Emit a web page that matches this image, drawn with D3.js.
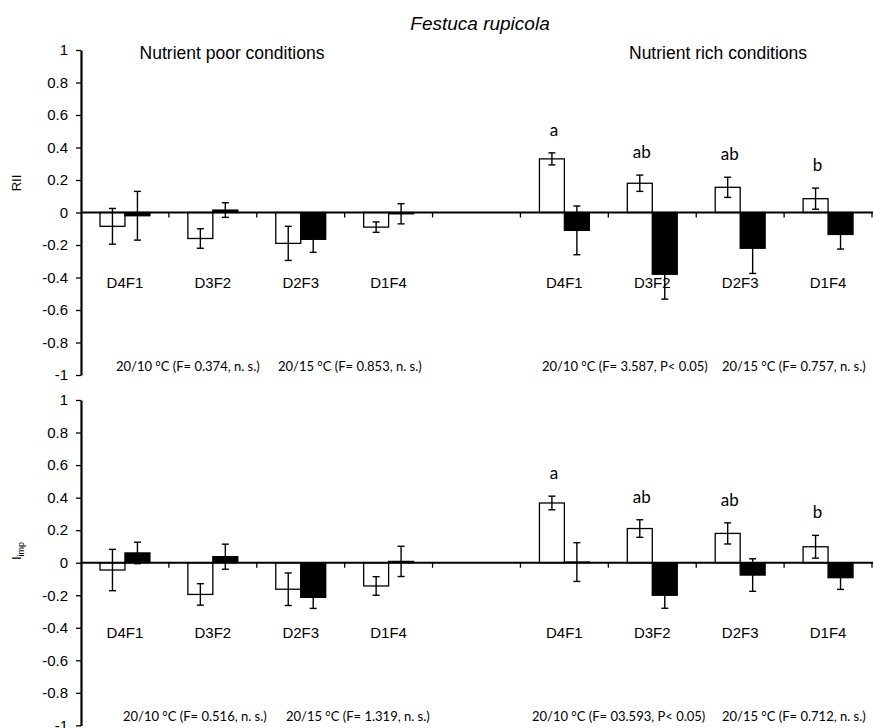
<!DOCTYPE html>
<html>
<head>
<meta charset="utf-8">
<script src="https://cdn.jsdelivr.net/npm/d3@7"></script>
<style>
body { margin: 0; background: #fff; }
text { font-family: "Liberation Sans", Arial, sans-serif; fill: #000; }
.cal { font-family: Lato, "Open Sans", sans-serif; }
</style>
</head>
<body>
<div id="chart"></div>
<script>
// categories and series
const categories = ["D4F1", "D3F2", "D2F3", "D1F4"];
const conditions = ["Nutrient poor conditions", "Nutrient rich conditions"];
const series = ["t1020", "t1520"];
const yTicks = [-1, -0.8, -0.6, -0.4, -0.2, 0, 0.2, 0.4, 0.6, 0.8, 1];

// values: 4 poor then 4 rich
const rii1020 = [-0.085, -0.16, -0.19, -0.09, 0.33, 0.18, 0.155, 0.085];
const rii1020Err = [0.11, 0.06, 0.105, 0.032, 0.037, 0.05, 0.062, 0.065];
const rii1520 = [-0.02, 0.015, -0.165, -0.008, -0.11, -0.38, -0.22, -0.135];
const rii1520Err = [0.15, 0.045, 0.08, 0.062, 0.15, 0.153, 0.155, 0.09];
const imp1020 = [-0.045, -0.195, -0.163, -0.143, 0.367, 0.21, 0.18, 0.098];
const imp1020Err = [0.127, 0.066, 0.1, 0.057, 0.042, 0.054, 0.065, 0.07];
const imp1520 = [0.06, 0.037, -0.213, 0.008, 0.004, -0.2, -0.076, -0.092];
const imp1520Err = [0.066, 0.077, 0.068, 0.093, 0.119, 0.08, 0.1, 0.072];
const richLetters = ["a", "ab", "ab", "b"];
const riiStats = ["20/10 °C (F= 0.374, n. s.)", "20/15 °C (F= 0.853, n. s.)", "20/10 °C (F= 3.587, P< 0.05)", "20/15 °C (F= 0.757, n. s.)"];
const impStats = ["20/10 °C (F= 0.516, n. s.)", "20/15 °C  (F= 1.319, n. s.)", "20/10 °C (F= 03.593, P< 0.05)", "20/15 °C (F= 0.712, n. s.)"];

const W = 873, H = 728;

const svg = d3.select("#chart")
    .append("svg")
    .attr("width", W)
    .attr("height", H);

// group keys: 4 poor, a blank slot, 4 rich
const groupKeys = categories.map(c => "poor_" + c)
    .concat(["blank"])
    .concat(categories.map(c => "rich_" + c));
const dataKeys = groupKeys.filter(k => k != "blank");

const x = d3.scaleBand().domain(groupKeys).range([81, 872]).padding(0);
const xInner = d3.scaleBand().domain(series).range([0, x.bandwidth()])
    .paddingInner(0).paddingOuter(0.76);

svg.append("text")
    .attr("x", 480).attr("y", 30)
    .attr("text-anchor", "middle")
    .attr("font-size", 19)
    .attr("font-style", "italic")
    .text("Festuca rupicola");

function drawPanel(p) {
    const y = d3.scaleLinear().domain([-1, 1]).range([p.bottom, p.top]);
    const g = svg.append("g");

    const rows = [];
    dataKeys.forEach((k, i) => {
        rows.push({ key: k, s: "t1020", v: p.a[i], e: p.aErr[i] });
        rows.push({ key: k, s: "t1520", v: p.b[i], e: p.bErr[i] });
    });

    // bars
    g.selectAll("rect.bar")
        .data(rows)
        .join("rect")
        .attr("class", "bar")
        .attr("x", d => x(d.key) + xInner(d.s))
        .attr("width", xInner.bandwidth())
        .attr("y", d => y(Math.max(0, d.v)))
        .attr("height", d => Math.abs(y(d.v) - y(0)))
        .attr("fill", d => d.s == "t1020" ? "#fff" : "#000")
        .attr("stroke", "#000")
        .attr("stroke-width", 1.3);

    // error bars
    const eb = g.selectAll("g.err")
        .data(rows)
        .join("g")
        .attr("class", "err")
        .attr("transform", d => `translate(${x(d.key) + xInner(d.s) + xInner.bandwidth() / 2},0)`)
        .attr("stroke", "#000")
        .attr("stroke-width", 1.4);
    eb.append("line")
        .attr("y1", d => y(d.v + d.e)).attr("y2", d => y(d.v - d.e));
    eb.append("line")
        .attr("x1", -3.5).attr("x2", 3.5)
        .attr("y1", d => y(d.v + d.e)).attr("y2", d => y(d.v + d.e));
    eb.append("line")
        .attr("x1", -3.5).attr("x2", 3.5)
        .attr("y1", d => y(d.v - d.e)).attr("y2", d => y(d.v - d.e));

    // zero line and ticks between groups
    g.append("line")
        .attr("x1", x.range()[0]).attr("x2", W)
        .attr("y1", y(0)).attr("y2", y(0))
        .attr("stroke", "#000").attr("stroke-width", 2);
    g.selectAll("line.xt")
        .data(groupKeys)
        .join("line")
        .attr("class", "xt")
        .attr("x1", d => x(d) + x.bandwidth()).attr("x2", d => x(d) + x.bandwidth())
        .attr("y1", y(0)).attr("y2", y(0) + 5)
        .attr("stroke", "#000").attr("stroke-width", 1.3);

    // category labels
    g.selectAll("text.cat")
        .data(dataKeys)
        .join("text")
        .attr("class", "cat")
        .attr("x", d => x(d) + x.bandwidth() / 2)
        .attr("y", y(0) + 75)
        .attr("text-anchor", "middle")
        .attr("font-size", 15)
        .text(d => d.split("_")[1]);

    // significance letters on rich 20/10 bars
    g.selectAll("text.let")
        .data(richLetters)
        .join("text")
        .attr("class", "let cal")
        .attr("x", (d, i) => x("rich_" + categories[i]) + xInner("t1020") + xInner.bandwidth() / 2 + 2)
        .attr("y", (d, i) => y(p.a[i + 4] + p.aErr[i + 4]) - 17)
        .attr("text-anchor", "middle")
        .attr("font-size", 17)
        .text(d => d);

    // y axis
    const ax = g.append("g")
        .attr("transform", "translate(81,0)")
        .call(d3.axisLeft(y).tickValues(yTicks).tickSize(5).tickSizeOuter(0).tickPadding(8)
            .tickFormat(d => String(+d.toFixed(1))));
    ax.select(".domain").attr("stroke-width", 2.2);
    ax.selectAll(".tick line").attr("stroke-width", 1.3);
    ax.selectAll(".tick text")
        .attr("font-size", 15)
        .attr("font-family", "'Liberation Sans', Arial, sans-serif");

    // y label
    const yl = g.append("text")
        .attr("transform", `translate(${p.labelX},${p.labelY}) rotate(-90)`)
        .attr("text-anchor", "middle")
        .attr("font-size", 13);
    yl.append("tspan").text(p.label);
    if (p.sub) {
        yl.append("tspan").attr("font-size", 9).attr("dy", 3).text(p.sub);
    }

    // statistics notes
    g.selectAll("text.stat")
        .data(p.stats)
        .join("text")
        .attr("class", "stat cal")
        .attr("x", (d, i) => p.statX[i])
        .attr("y", y(-1) - 4)
        .attr("font-size", 13)
        .text(d => d);
}

drawPanel({
    top: 50, bottom: 375, a: rii1020, aErr: rii1020Err, b: rii1520, bErr: rii1520Err,
    label: "RII", labelX: 21, labelY: 183, stats: riiStats, statX: [116, 278, 542, 722]
});
drawPanel({
    top: 400, bottom: 725.4, a: imp1020, aErr: imp1020Err, b: imp1520, bErr: imp1520Err,
    label: "I", sub: "imp", labelX: 21, labelY: 551, stats: impStats, statX: [123, 286, 532, 722]
});

// condition headings
svg.selectAll("text.cond")
    .data(conditions)
    .join("text")
    .attr("class", "cond")
    .attr("x", (d, i) => i == 0 ? 232 : 718)
    .attr("y", 59)
    .attr("text-anchor", "middle")
    .attr("font-size", 17.5)
    .text(d => d);
</script>
</body>
</html>
